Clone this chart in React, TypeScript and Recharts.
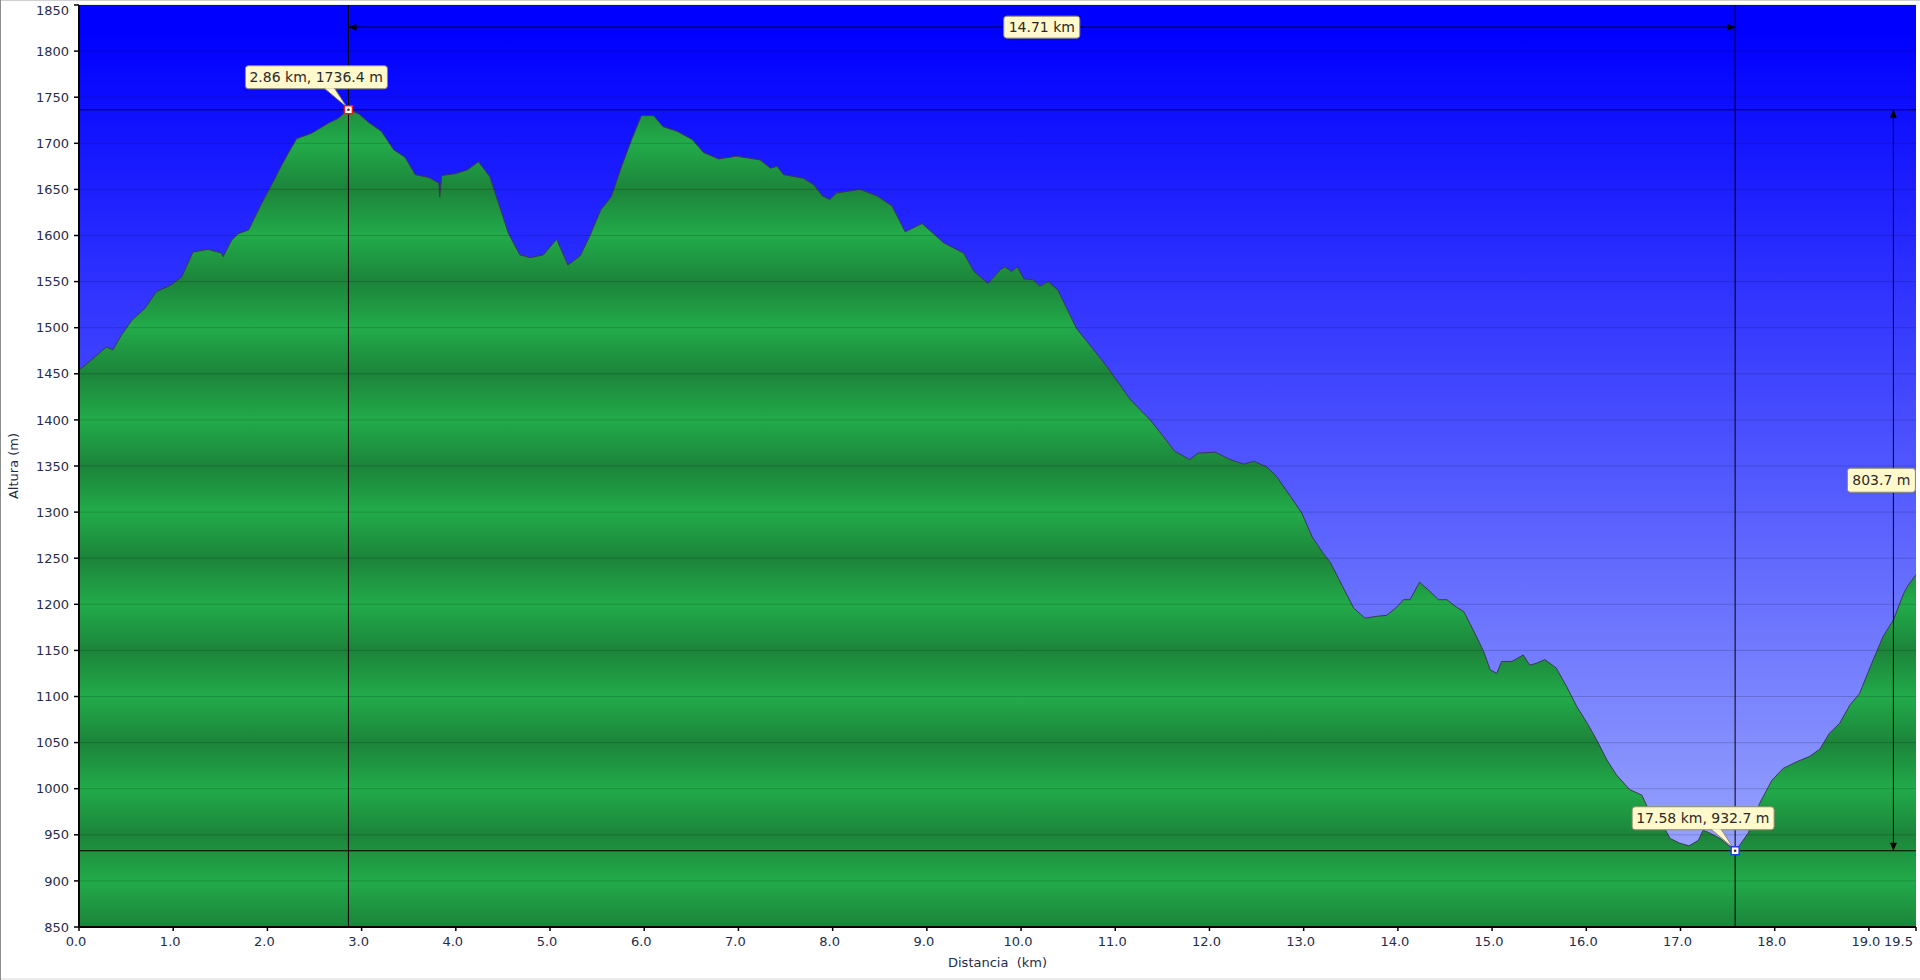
import {
  AreaChart,
  Area,
  XAxis,
  YAxis,
  CartesianGrid,
  ReferenceLine,
  ReferenceDot,
} from 'recharts';

// distance along the track (km)
const KM = [
  0.0, 0.13, 0.29, 0.36, 0.45, 0.56, 0.7, 0.82, 0.97, 1.09, 1.21, 1.37, 1.51, 1.53, 1.62, 1.69, 1.8,
  1.94, 2.08, 2.15, 2.22, 2.31, 2.47, 2.65, 2.75, 2.86, 2.97, 3.07, 3.21, 3.34, 3.46, 3.57, 3.71,
  3.82, 3.83, 3.85, 3.99, 4.12, 4.24, 4.36, 4.56, 4.68, 4.79, 4.93, 5.07, 5.19, 5.32, 5.42, 5.54,
  5.65, 5.76, 5.87, 5.97, 6.1, 6.2, 6.35, 6.51, 6.63, 6.79, 6.98, 7.23, 7.34, 7.41, 7.48, 7.69, 7.8,
  7.89, 7.97, 8.04, 8.29, 8.47, 8.63, 8.77, 8.95, 9.18, 9.39, 9.5, 9.65, 9.78, 9.83, 9.9, 9.96,
  10.03, 10.13, 10.2, 10.29, 10.39, 10.59, 10.77, 10.91, 11.05, 11.16, 11.37, 11.51, 11.63, 11.79,
  11.88, 12.06, 12.22, 12.36, 12.47, 12.61, 12.71, 12.86, 12.98, 13.09, 13.21, 13.28, 13.37, 13.53,
  13.65, 13.78, 13.88, 13.99, 14.06, 14.13, 14.23, 14.34, 14.43, 14.52, 14.62, 14.7, 14.8, 14.91,
  14.98, 15.05, 15.1, 15.21, 15.33, 15.4, 15.47, 15.56, 15.68, 15.79, 15.9, 16.01, 16.11, 16.22,
  16.32, 16.46, 16.59, 16.68, 16.82, 16.89, 16.99, 17.09, 17.19, 17.24, 17.31, 17.42, 17.58, 17.63,
  17.72, 17.84, 17.97, 18.09, 18.23, 18.37, 18.48, 18.58, 18.69, 18.8, 18.9, 19.03, 19.15, 19.26,
  19.37, 19.42, 19.5,
];

// altitude (m)
const ALT = [
  1454, 1465, 1479, 1476, 1492, 1508, 1521, 1539, 1546, 1555, 1582, 1585, 1581, 1577, 1595, 1602, 1606,
  1635, 1662, 1676, 1689, 1705, 1711, 1722, 1727, 1736.4, 1732, 1723, 1713, 1693, 1685, 1666, 1663,
  1657, 1642, 1665, 1667, 1671, 1680, 1664, 1602, 1579, 1576, 1579, 1596, 1568, 1578, 1599, 1628,
  1642, 1675, 1705, 1730, 1730, 1718, 1713, 1704, 1690, 1683, 1686, 1682, 1673, 1675, 1666, 1662, 1655,
  1643, 1639, 1646, 1650, 1643, 1632, 1604, 1613, 1592, 1581, 1561, 1548, 1563, 1566, 1561, 1566,
  1553, 1552, 1545, 1550, 1541, 1499, 1476, 1458, 1438, 1422, 1400, 1382, 1366, 1357,
  1364, 1365, 1357, 1352, 1355, 1349, 1339, 1317, 1299, 1273, 1255, 1246, 1228, 1196,
  1185, 1187, 1188, 1197, 1205, 1205, 1224, 1214, 1205, 1205, 1197, 1192, 1172, 1149,
  1129, 1125, 1138, 1138, 1145, 1134, 1136, 1140, 1131, 1111, 1089, 1071, 1053, 1031,
  1015, 999, 993, 973, 959, 946, 941, 938, 944, 955, 952, 946, 932.7, 939,
  952, 984, 1009, 1022, 1029, 1035, 1043, 1060, 1071, 1091, 1103, 1136, 1165, 1183,
  1212, 1221, 1232,
];

const X_TICKS = [0, 1, 2, 3, 4, 5, 6, 7, 8, 9, 10, 11, 12, 13, 14, 15, 16, 17, 18, 19, 19.5];
const Y_TICKS = [
  850, 900, 950, 1000, 1050, 1100, 1150, 1200, 1250, 1300, 1350, 1400, 1450, 1500, 1550, 1600,
  1650, 1700, 1750, 1800, 1850,
];

const PEAK = { km: 2.86, alt: 1736.4, label: '2.86 km, 1736.4 m' };
const LOW = { km: 17.58, alt: 932.7, label: '17.58 km, 932.7 m' };
const DIST_LABEL = '14.71 km';
const DROP_LABEL = '803.7 m';
const DIST_ALT = 1826; // height where the distance arrow runs
const DROP_KM = 19.26; // where the height-difference arrow runs

const data = KM.map((km, i) => ({ km, alt: ALT[i] }));

const W = 1920;
const H = 980;
const MARGIN = { top: 5, right: 4, bottom: 0, left: 0 };
const Y_AXIS_W = 79;
const X_AXIS_H = 53;
const PLOT_TOP = MARGIN.top;
const PLOT_H = H - MARGIN.top - MARGIN.bottom - X_AXIS_H;
const BAND = PLOT_H / 10; // one dark/light stripe every 100 m

const FONT = '"DejaVu Sans", Verdana, sans-serif';
const TEXT = '#1f2d4d';
const BOX_FILL = '#fff9cc';
const BOX_LINE = '#8f8a6a';

const Callout = (props: any) => {
  const { cx, cy, text, edge } = props;
  if (cx == null || cy == null) return <g />;
  return (
    <g>
      <rect x={cx - 103} y={cy - 44} width={142} height={23} rx={3} fill={BOX_FILL} stroke={BOX_LINE} />
      <path d={`M${cx - 24},${cy - 21.5} L${cx - 2},${cy - 3} L${cx - 14},${cy - 21.5} Z`} fill={BOX_FILL} />
      <path d={`M${cx - 24},${cy - 21.5} L${cx - 2},${cy - 3} L${cx - 14},${cy - 21.5}`} fill="none" stroke={BOX_LINE} />
      <text x={cx - 99} y={cy - 28} fontFamily={FONT} fontSize={14} fill="#2a2a2a">
        {text}
      </text>
      <rect x={cx - 4} y={cy - 4} width={8} height={8} fill="#fff" stroke={edge} strokeWidth={1.5} />
      <circle cx={cx} cy={cy} r={1.3} fill="#333" />
    </g>
  );
};

const DistArrow = (props: any) => {
  const { x1, x2, y1 } = props;
  const a = Math.min(x1, x2);
  const b = Math.max(x1, x2);
  const mid = (a + b) / 2;
  return (
    <g>
      <line x1={a} y1={y1} x2={b} y2={y1} stroke="#000" strokeWidth={1} />
      <polygon points={`${a},${y1} ${a + 8},${y1 - 3.5} ${a + 8},${y1 + 3.5}`} fill="#000" />
      <polygon points={`${b},${y1} ${b - 8},${y1 - 3.5} ${b - 8},${y1 + 3.5}`} fill="#000" />
      <rect x={mid - 38} y={y1 - 11} width={76} height={22} rx={3} fill={BOX_FILL} stroke={BOX_LINE} />
      <text x={mid} y={y1 + 5} textAnchor="middle" fontFamily={FONT} fontSize={14} fill="#2a2a2a">
        {DIST_LABEL}
      </text>
    </g>
  );
};

const DropArrow = (props: any) => {
  const { x1, y1, y2 } = props;
  const t = Math.min(y1, y2);
  const b = Math.max(y1, y2);
  const mid = (t + b) / 2;
  return (
    <g>
      <line x1={x1} y1={t} x2={x1} y2={b} stroke="#000" strokeWidth={1} />
      <polygon points={`${x1},${t} ${x1 - 3.5},${t + 8} ${x1 + 3.5},${t + 8}`} fill="#000" />
      <polygon points={`${x1},${b} ${x1 - 3.5},${b - 8} ${x1 + 3.5},${b - 8}`} fill="#000" />
      <rect x={x1 - 46} y={mid - 12} width={68} height={24} rx={3} fill={BOX_FILL} stroke={BOX_LINE} />
      <text x={x1 - 12} y={mid + 5} textAnchor="middle" fontFamily={FONT} fontSize={14} fill="#2a2a2a">
        {DROP_LABEL}
      </text>
    </g>
  );
};

const YLabel = (props: any) => {
  const { viewBox } = props;
  const x = 13.5;
  const y = viewBox.y + viewBox.height / 2;
  return (
    <text
      x={x}
      y={y}
      transform={`rotate(-90 ${x} ${y})`}
      textAnchor="middle"
      dominantBaseline="central"
      fontFamily={FONT}
      fontSize={13}
      fill={TEXT}
    >
      Altura (m)
    </text>
  );
};

const XLabel = (props: any) => {
  const { viewBox } = props;
  const x = viewBox.x + viewBox.width / 2;
  return (
    <text x={x} y={967} textAnchor="middle" fontFamily={FONT} fontSize={13} fill={TEXT} xmlSpace="preserve">
      {'Distancia  (km)'}
    </text>
  );
};

// last x label sits flush left of its tick so it stays inside the picture
const XTick = (props: any) => {
  const { x, y, payload } = props;
  const last = payload.value === X_TICKS[X_TICKS.length - 1];
  return (
    <text
      x={x - 3}
      y={y}
      dy="0.71em"
      textAnchor={last ? 'end' : 'middle'}
      fontFamily={FONT}
      fontSize={13}
      fill={TEXT}
    >
      {Number(payload.value).toFixed(1)}
    </text>
  );
};

// top y label is pushed down below the top edge
const YTick = (props: any) => {
  const { x, y, payload } = props;
  const top = payload.value === Y_TICKS[Y_TICKS.length - 1];
  return (
    <text x={x} y={top ? y + 5 : y} dy="0.355em" textAnchor="end" fontFamily={FONT} fontSize={13} fill={TEXT}>
      {payload.value}
    </text>
  );
};

export default function App() {
  return (
    <div
      style={{
        position: 'absolute',
        left: 0,
        top: 0,
        width: W,
        height: H,
        background: '#fff',
        boxShadow: 'inset 1px 0 0 #8c8c8c, inset 0 1px 0 #d0d0d0, inset 0 -2px 0 #ececec',
      }}
    >
      <AreaChart width={W} height={H} data={data} margin={MARGIN}>
        <defs>
          <linearGradient id="sky" x1="0" y1="0" x2="0" y2="1">
            <stop offset="0" stopColor="#0000ff" />
            <stop offset="0.03" stopColor="#0000ff" />
            <stop offset="1" stopColor="#a5b2fd" />
          </linearGradient>
          <linearGradient
            id="bands"
            gradientUnits="userSpaceOnUse"
            x1={0}
            y1={PLOT_TOP}
            x2={0}
            y2={PLOT_TOP + BAND}
            spreadMethod="repeat"
          >
            <stop offset="0" stopColor="#1c843a" />
            <stop offset="0.5" stopColor="#22ab4a" />
            <stop offset="1" stopColor="#1c843a" />
          </linearGradient>
        </defs>
        <CartesianGrid fill="url(#sky)" horizontal={false} vertical={false} />
        <XAxis
          dataKey="km"
          type="number"
          domain={[0, 19.5]}
          ticks={X_TICKS}
          interval={0}
          height={X_AXIS_H}
          tick={<XTick />}
          tickSize={4}
          tickMargin={6}
          axisLine={{ stroke: '#000', strokeWidth: 2 }}
          tickLine={{ stroke: '#000', strokeWidth: 1.5 }}
          label={<XLabel />}
        />
        <YAxis
          type="number"
          domain={[850, 1850]}
          ticks={Y_TICKS}
          interval={0}
          width={Y_AXIS_W}
          tick={<YTick />}
          tickSize={5}
          tickMargin={5}
          axisLine={{ stroke: '#000', strokeWidth: 2 }}
          tickLine={{ stroke: '#000', strokeWidth: 1.5 }}
          label={<YLabel />}
        />
        <Area
          type="linear"
          dataKey="alt"
          stroke="#3a3a4e"
          strokeWidth={1}
          fill="url(#bands)"
          fillOpacity={1}
          dot={false}
          activeDot={false}
          isAnimationActive={false}
        />
        {Y_TICKS.map((v) => (
          <ReferenceLine key={v} y={v} stroke="rgba(0,0,0,0.16)" strokeWidth={1} />
        ))}
        <ReferenceLine x={PEAK.km} stroke="#000" strokeWidth={1} />
        <ReferenceLine y={PEAK.alt} stroke="#000" strokeWidth={1} />
        <ReferenceLine x={LOW.km} stroke="#000" strokeWidth={1} />
        <ReferenceLine y={LOW.alt} stroke="#000" strokeWidth={1} />
        <ReferenceLine
          segment={[
            { x: PEAK.km, y: DIST_ALT },
            { x: LOW.km, y: DIST_ALT },
          ]}
          shape={DistArrow}
        />
        <ReferenceLine
          segment={[
            { x: DROP_KM, y: PEAK.alt },
            { x: DROP_KM, y: LOW.alt },
          ]}
          shape={DropArrow}
        />
        <ReferenceDot
          x={PEAK.km}
          y={PEAK.alt}
          r={4}
          shape={(p: any) => <Callout {...p} text={PEAK.label} edge="#e02020" />}
        />
        <ReferenceDot
          x={LOW.km}
          y={LOW.alt}
          r={4}
          shape={(p: any) => <Callout {...p} text={LOW.label} edge="#2040e0" />}
        />
      </AreaChart>
    </div>
  );
}
